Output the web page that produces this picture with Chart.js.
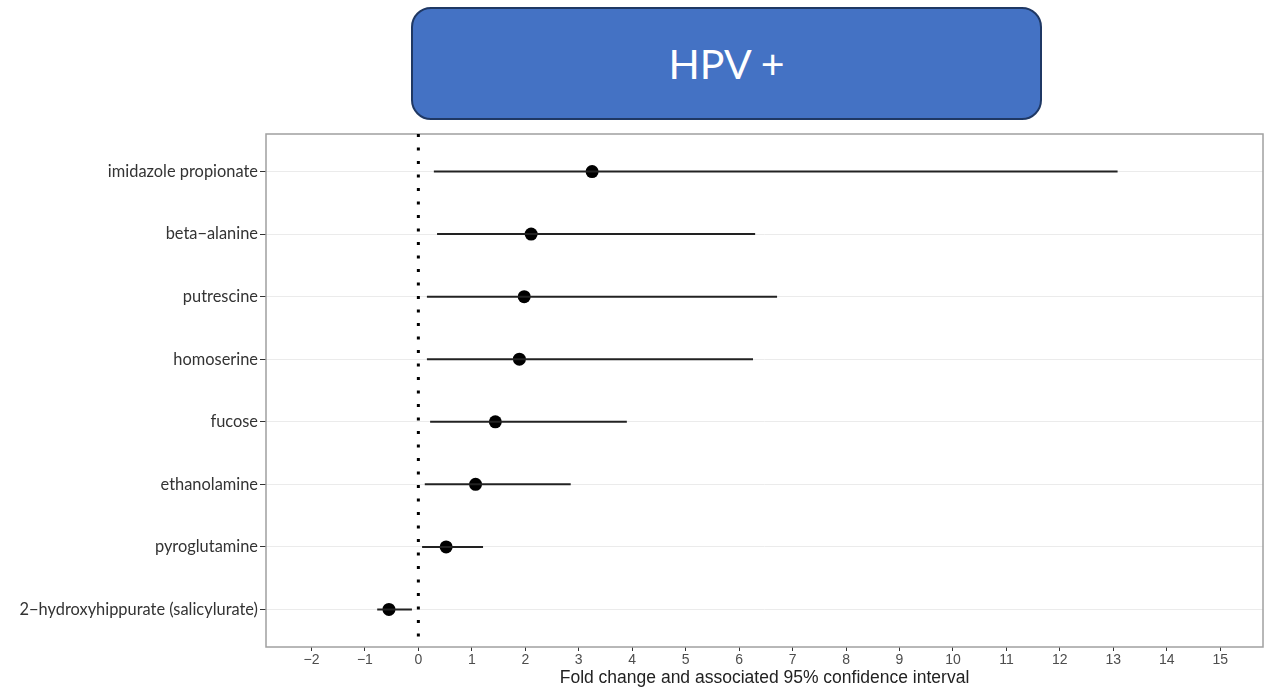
<!DOCTYPE html>
<html>
<head>
<meta charset="utf-8">
<script src="https://cdn.jsdelivr.net/npm/chart.js@4"></script>
<style>
  body { margin: 0; background: #fff; }
  #wrap { position: relative; width: 1271px; height: 691px; }
  #hdr {
    position: absolute; left: 411px; top: 7px; width: 627px; height: 109px;
    background: #4472c4; border: 2px solid #1f3864; border-radius: 20px;
    color: #fff; font-family: Lato, sans-serif; font-size: 41px;
    display: flex; align-items: center; justify-content: center;
  }
</style>
</head>
<body>
<div id="wrap">
  <canvas id="forest" width="1271" height="691"></canvas>
  <div id="hdr">HPV +</div>
</div>
<script>
const categories = ['imidazole propionate', 'beta\u2212alanine', 'putrescine', 'homoserine',
    'fucose', 'ethanolamine', 'pyroglutamine', '2\u2212hydroxyhippurate (salicylurate)'];
const estimates = [3.25, 2.11, 1.98, 1.89, 1.44, 1.07, 0.52, -0.55];
const lower = [0.29, 0.35, 0.16, 0.16, 0.22, 0.12, 0.07, -0.77];
const upper = [13.08, 6.30, 6.71, 6.26, 3.90, 2.85, 1.21, -0.12];
const xTicks = [-2, -1, 0, 1, 2, 3, 4, 5, 6, 7, 8, 9, 10, 11, 12, 13, 14, 15];

// one short line per metabolite for the 95% CI
const ciSets = categories.map((c, i) => ({
    data: [{ x: lower[i], y: i + 1 }, { x: upper[i], y: i + 1 }],
    showLine: true,
    borderColor: '#222',
    borderWidth: 2,
    pointRadius: 0
}));

const frame = {
    id: 'frame',
    beforeDatasetsDraw(chart) {
        const a = chart.chartArea, ctx = chart.ctx;
        ctx.save();
        ctx.strokeStyle = '#a0a0a0';
        ctx.lineWidth = 1.5;
        ctx.strokeRect(a.left, a.top, a.right - a.left, a.bottom - a.top);
        ctx.restore();
    }
};

const ctx = document.getElementById('forest').getContext('2d');
const forestChart = new Chart(ctx, {
    type: 'scatter',
    data: {
        datasets: [
            {
                data: [{ x: 0, y: 0.4 }, { x: 0, y: 8.6 }],
                showLine: true,
                borderColor: '#000',
                borderWidth: 3,
                borderDash: [3, 10.5],
                borderCapStyle: 'butt',
                pointRadius: 0
            },
            ...ciSets,
            {
                data: estimates.map((v, i) => ({ x: v, y: i + 1 })),
                backgroundColor: '#000',
                borderWidth: 0,
                pointRadius: 6.5
            }
        ]
    },
    options: {
        responsive: false,
        animation: false,
        layout: { padding: { top: 134, right: 8, left: 0, bottom: 0 } },
        plugins: { legend: { display: false }, tooltip: { enabled: false } },
        scales: {
            x: {
                type: 'linear',
                min: -2.85,
                max: 15.8,
                afterBuildTicks: s => { s.ticks = xTicks.map(v => ({ value: v })); },
                afterFit: s => { s.height = 44; },
                border: { display: false },
                grid: { drawOnChartArea: false, drawTicks: true, tickLength: 4, tickColor: '#333' },
                ticks: {
                    color: '#4d4d4d', padding: 1, maxRotation: 0,
                    font: { family: 'Liberation Sans', size: 14 },
                    callback: v => String(v).replace('-', '\u2212')
                },
                title: {
                    display: true,
                    text: 'Fold change and associated 95% confidence interval',
                    color: '#222',
                    padding: { top: 0, bottom: 2 },
                    font: { family: 'Liberation Sans', size: 17.5 }
                }
            },
            y: {
                type: 'linear',
                reverse: true,
                min: 0.4,
                max: 8.6,
                afterBuildTicks: s => { s.ticks = categories.map((c, i) => ({ value: i + 1 })); },
                afterFit: s => { s.width = 266; },
                border: { display: false },
                grid: { color: '#ebebeb', lineWidth: 1, drawTicks: true, tickLength: 6, tickColor: '#333' },
                ticks: {
                    color: '#333',
                    padding: 2,
                    font: { family: 'Lato', size: 16.4 },
                    callback: v => categories[v - 1]
                }
            }
        }
    },
    plugins: [frame]
});
</script>
</body>
</html>
